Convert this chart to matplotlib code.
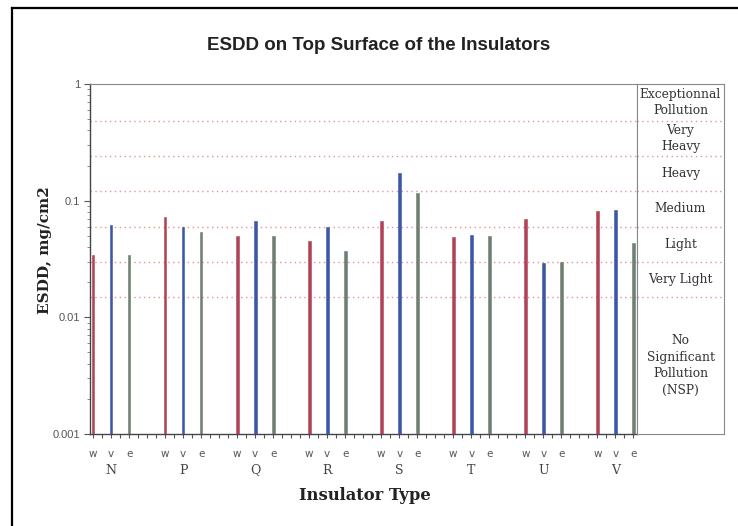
import numpy as np
import matplotlib.pyplot as plt
from matplotlib.transforms import blended_transform_factory

# ESDD readings (mg/cm2) per insulator type, for the w / v / e positions
insulators = ['N', 'P', 'Q', 'R', 'S', 'T', 'U', 'V']
members = ['w', 'v', 'e']
esdd_w = [0.034, 0.072, 0.050, 0.045, 0.067, 0.049, 0.069, 0.082]
esdd_v = [0.062, 0.059, 0.067, 0.059, 0.172, 0.051, 0.029, 0.083]
esdd_e = [0.034, 0.054, 0.050, 0.037, 0.116, 0.050, 0.030, 0.043]

# pollution class limits and names
class_limits = [0.015, 0.03, 0.06, 0.12, 0.24, 0.48]
class_names = ['No\nSignificant\nPollution\n(NSP)', 'Very Light', 'Light',
               'Medium', 'Heavy', 'Very\nHeavy', 'Exceptionnal\nPollution']

ymin, ymax = 0.001, 1.0
colors = ['#b04457', '#3a58a6', '#6e8071']

W, H = 738, 526
fig = plt.figure(figsize=(W / 100, H / 100), dpi=100)

def fx(px):
    return px / W

def fy(py):
    return 1 - py / H

# outer frame of the scanned page (left and top only)
fig.add_artist(plt.Line2D([fx(12), fx(12)], [fy(8), 0], color='black', lw=1.6))
fig.add_artist(plt.Line2D([fx(12), 1], [fy(8), fy(8)], color='black', lw=1.6))

ax_left, ax_right, ax_top, ax_bot = 90, 637, 84, 434
panel_right = 724
ax = fig.add_axes([fx(ax_left), fy(ax_bot), fx(ax_right - ax_left), (ax_bot - ax_top) / H])
pan = fig.add_axes([fx(ax_right), fy(ax_bot), fx(panel_right - ax_right), (ax_bot - ax_top) / H],
                   sharey=ax)

ax.set_yscale('log')
ax.set_ylim(ymin, ymax)

slot = 4
bar_w = 0.15
for k, vals in enumerate([esdd_w, esdd_v, esdd_e]):
    xs = np.arange(len(insulators)) * slot + k
    ax.bar(xs, vals, width=bar_w, color=colors[k], edgecolor=colors[k], lw=0.4, zorder=3)

ax.set_xlim(-0.17, 30.2)

for lim in class_limits:
    for a in (ax, pan):
        a.axhline(lim, color='#ec9090', lw=1.0, ls=(0, (1, 2.5)), zorder=1)

# axes styling
for side in ['left', 'bottom']:
    ax.spines[side].set_color('#444444')
    ax.spines[side].set_linewidth(1.0)
for side in ['top', 'right']:
    ax.spines[side].set_color('#888888')
    ax.spines[side].set_linewidth(0.8)

ax.set_yticks([0.001, 0.01, 0.1, 1])
ax.set_yticklabels(['0.001', '0.01', '0.1', '1'], fontfamily='Liberation Sans',
                   fontsize=8, color='#555555')
ax.tick_params(axis='y', which='major', length=4, width=0.8, color='#555555', pad=3)
ax.tick_params(axis='y', which='minor', length=2.5, width=0.6, color='#777777')

ax.set_xticks(np.arange(0, 30.5, 0.5))
ax.set_xticklabels([])
ax.tick_params(axis='x', which='major', length=3, width=0.8, color='#555555')
ax.tick_params(axis='x', which='minor', length=0)

pan.set_xticks([])
pan.tick_params(axis='y', which='both', left=False, labelleft=False)
for s in pan.spines.values():
    s.set_color('#888888')
    s.set_linewidth(0.8)

bounds = [ymin] + class_limits + [ymax]
tr = blended_transform_factory(pan.transAxes, pan.transData)
for i, name in enumerate(class_names):
    yc = np.sqrt(bounds[i] * bounds[i + 1])
    pan.text(0.5, yc, name, transform=tr, ha='center', va='center',
             fontfamily='DejaVu Serif', fontsize=8.8, color='#333333', linespacing=1.35)

# category labels under the axis
xtr = blended_transform_factory(ax.transData, fig.transFigure)
for g, name in enumerate(insulators):
    for k, m in enumerate(members):
        ax.text(g * slot + k, fy(454), m, transform=xtr, ha='center', va='center',
                fontfamily='DejaVu Sans', fontsize=7.5, color='#555555')
    ax.text(g * slot + 1, fy(470), name, transform=xtr, ha='center', va='center',
            fontfamily='DejaVu Serif', fontsize=9, color='#444444')

fig.text(fx(379), fy(46), 'ESDD on Top Surface of the Insulators', ha='center', va='center',
         fontfamily='Liberation Sans', fontweight='bold', fontsize=13.5, color='#222222')
fig.text(fx(45), fy(250), 'ESDD, mg/cm2', rotation=90, ha='center', va='center',
         fontfamily='DejaVu Serif', fontweight='bold', fontsize=11, color='#222222')
fig.text(fx(365), fy(496), 'Insulator Type', ha='center', va='center',
         fontfamily='DejaVu Serif', fontweight='bold', fontsize=11.8, color='#222222')

fig.savefig('out.png', dpi=100)
